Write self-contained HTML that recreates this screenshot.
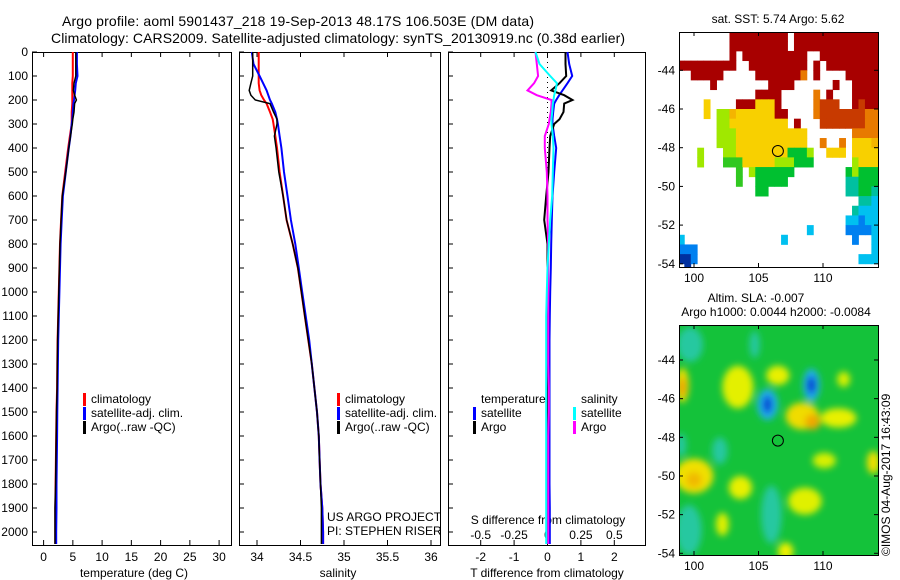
<!DOCTYPE html>
<html><head><meta charset="utf-8"><style>
html,body{margin:0;padding:0;background:#fff;}
svg{display:block;font-family:"Liberation Sans",sans-serif;}
</style></head><body>
<svg id="fig" width="900" height="580" viewBox="0 0 900 580" xmlns="http://www.w3.org/2000/svg">
<text x="298" y="26" font-size="14" text-anchor="middle" textLength="472">Argo profile: aoml 5901437_218 19-Sep-2013 48.17S 106.503E (DM data)</text>
<text x="338" y="43" font-size="14" text-anchor="middle" textLength="574">Climatology: CARS2009. Satellite-adjusted climatology: synTS_20130919.nc (0.38d earlier)</text>
<g id="p1"></g>
<g id="p2"></g>
<g id="p3"></g>
<g id="m1"></g>
<g id="m2"></g>
<text transform="translate(890,556) rotate(-90)" font-size="12">©IMOS 04-Aug-2017 16:43:09</text>
</svg>
<script>
// ---- data ----
const depths = [0,50,100,130,160,180,200,215,250,280,300,350,400,500,600,700,800,900,1000,1100,1200,1300,1400,1500,1600,1700,1800,1900,2000,2050];
const tempClim = [5.0,5.0,5.0,4.9,4.9,4.9,4.9,4.9,4.8,4.8,4.8,4.5,4.2,3.7,3.2,3.0,2.8,2.7,2.6,2.5,2.4,2.35,2.3,2.2,2.15,2.1,2.05,2.0,2.0,2.0];
const tempSat = [5.7,5.7,5.8,5.5,5.4,5.3,5.2,5.1,5.0,4.9,4.8,4.6,4.3,3.8,3.3,3.1,2.9,2.8,2.7,2.6,2.5,2.45,2.4,2.35,2.3,2.25,2.2,2.2,2.15,2.15];
const tempArgo = [5.5,5.5,5.5,5.2,5.1,5.3,5.6,5.3,5.2,5.0,4.9,4.6,4.3,3.8,3.2,3.0,2.8,2.7,2.6,2.5,2.4,2.35,2.3,2.2,2.15,2.1,2.05,1.95,1.95,1.95];
const salClim = [34.02,34.02,34.02,34.02,34.03,34.05,34.08,34.11,34.15,34.18,34.19,34.21,34.23,34.26,34.30,34.34,34.41,34.47,34.51,34.55,34.59,34.63,34.66,34.69,34.71,34.72,34.73,34.75,34.76,34.76];
const salSat = [33.94,33.96,34.03,34.07,34.11,34.13,34.15,34.17,34.21,34.23,34.24,34.26,34.28,34.31,34.35,34.39,34.44,34.48,34.52,34.56,34.60,34.63,34.66,34.69,34.71,34.72,34.73,34.75,34.76,34.76];
const salArgo = [33.95,33.95,33.95,33.93,33.91,33.93,33.98,34.15,34.19,34.23,34.23,34.20,34.22,34.25,34.30,34.34,34.41,34.47,34.51,34.55,34.59,34.63,34.66,34.69,34.71,34.72,34.73,34.74,34.74,34.74];
const dTSat = [0.6,0.65,0.74,0.6,0.45,0.35,0.26,0.2,0.17,0.15,0.15,0.2,0.26,0.2,0.15,0.13,0.11,0.1,0.08,0.07,0.06,0.06,0.06,0.06,0.06,0.06,0.06,0.07,0.07,0.07];
const dTArgo = [0.54,0.54,0.56,0.36,0.11,0.5,0.75,0.5,0.48,0.36,0.2,0.08,0.06,0.03,-0.04,-0.1,0.0,0.0,0.0,0.0,-0.01,-0.01,-0.01,0.0,0.0,0.0,-0.01,-0.02,-0.02,-0.02];
const dSSat = [-0.09,-0.06,0.02,0.07,0.06,0.05,0.045,0.04,0.035,0.03,0.03,0.04,0.045,0.04,0.035,0.02,0.01,0.0,-0.005,-0.01,-0.01,-0.01,-0.01,-0.01,-0.01,-0.01,-0.01,-0.01,-0.01,-0.01];
const dSArgo = [-0.09,-0.08,-0.07,-0.1,-0.15,-0.08,0.03,0.03,0.025,0.015,0.01,-0.02,-0.02,-0.005,0.0,0.0,0.005,0.005,0.005,0.005,0.005,0.005,0.01,0.01,0.005,0.005,0.005,0.005,0.005,0.005];
const depthTicks = [0,100,200,300,400,500,600,700,800,900,1000,1100,1200,1300,1400,1500,1600,1700,1800,1900,2000];
const tempTicks = [0,5,10,15,20,25,30];
const salTicks = [34,34.5,35,35.5,36];
const salTickLabels = ["34","34.5","35","35.5","36"];
const dTTicks = [-2,-1,0,1,2];
const dSTicks = [-0.5,-0.25,0,0.25,0.5];
const dSTickLabels = ["-0.5","-0.25","0","0.25","0.5"];
const latTicks = [-44,-46,-48,-50,-52,-54];
const lonTicks = [100,105,110];
const floatLon = 106.503, floatLat = -48.17;
// SST map grid: 0.5 deg cells from 98.75E, -42S
const sstRows = [
"........RRRRRRRRR.RRRRRRRRRRRRR",
"........RRRRRRRRR.RRRRRRRRRRRRR",
"........R.RRRRRRRRRR..RRRRRRRRR",
"RRRRRRRRR..RRRRRRRRR.R.RRRRRRRR",
"..RRRRR.....RRRRRRRo.R....RRRRR",
".....R........RRRR......R..RRRR",
"............RRRR.....o.R...RRRR",
"....y....RRRyyyR.....orrr..RrRR",
"....y.llYyyyyyyRR....orrrrrrroo",
"......llyyyyyyyyy.R...rrrrrrroo",
"......lllyyyyyyyyyyy.......oooo",
"......lllyyyyyyyyyyy..o..o.yyyY",
"...l...llyyyyyyyyGGGl..yyy.yyyy",
"...l...gggyyyyylllGGG......lyyy",
".........g.lGGGGGG........GlGGG",
".........g..GGGGG.........ttGGG",
"............GG............ttGGt",
"............................ttc",
"...........................tccc",
"..........................ccbcc",
"....................c.....bbbbc",
"c...............c..........b..c",
"bbb...........................c",
"BBb.........................ccc",
".B............................."];
const sstColors = {R:"#a80000",r:"#c83a00",o:"#e87a00",Y:"#f4b400",y:"#f8d000",l:"#a0e800",g:"#30c820",G:"#00c030",t:"#00c0a0",c:"#00c0f0",b:"#0080f0",B:"#0030a0"};
// SLA anomaly blobs: lon, lat, rx(deg), ry(deg), colour
const slaLon = [99.7,99.0,99.6,104.7,106.0,102.0,99.1,103.4,106.5,108.4,111.2,111.6,110.1,113.9,100.0,103.6,108.6,102.2,107.1,105.7,109.1,109.2,99.1,100.0];
const slaLat = [-43.2,-48.4,-52.8,-43.2,-52.0,-48.7,-45.3,-45.4,-44.8,-46.9,-47.0,-45.0,-49.2,-49.3,-50.0,-50.6,-51.3,-52.5,-53.9,-46.3,-45.3,-47.2,-45.4,-50.2];
const slaRx = [1.0,0.4,1.0,0.4,0.8,0.6,0.5,1.2,0.9,1.3,1.4,0.5,0.9,0.5,1.5,0.9,1.3,0.5,0.6,0.8,0.65,0.6,0.3,0.6];
const slaRy = [0.9,0.6,1.3,0.7,1.5,0.7,0.9,1.1,0.5,0.7,0.5,0.4,0.4,0.6,0.9,0.6,0.7,0.6,0.45,0.8,0.85,0.4,0.5,0.4];
const slaCol = ["#28c8a0","#28c8a0","#28c8a0","#28c8a0","#28c8a0","#28c8a0","#f0e000","#e4f000","#e8f000","#f0dc00","#e8f000","#d8f000","#d8f000","#f0e000","#f0e000","#e8f000","#e0f000","#e0f000","#f0f000","#20b0f0","#20b0f0","#f0a800","#f0a000","#f0b800"];
const eddyLon = [105.7,109.1];
const eddyLat = [-46.3,-45.3];

// ---- helpers ----
const NS="http://www.w3.org/2000/svg";
function mk(parent,tag,attrs){const e=document.createElementNS(NS,tag);for(const k in attrs)e.setAttribute(k,attrs[k]);parent.appendChild(e);return e;}
const Y0=52, YB=545, yD=d=>Y0+0.24*d;
const xT=t=>43.6+5.85*t;
const xS=s=>257+87*(s-34);
const xDT=t=>547.5+33.4*t;
const xDS=s=>547.5+133.6*s;

function frame(g,x0,x1,name){
  const r=mk(g,'rect',{x:x0+0.5,y:Y0+0.5,width:x1-x0,height:YB-Y0,fill:'none',stroke:'#000','stroke-width':1});
  
  
}
function line(g,xs,xf,col,name,w){
  const pts=depths.map((d,i)=>xf(xs[i]).toFixed(1)+','+yD(d).toFixed(1)).join(' ');
  const p=mk(g,'polyline',{points:pts,fill:'none',stroke:col,'stroke-width':w||2,'stroke-linejoin':'miter'});
  
  
}
function txt(g,x,y,s,name,size,anchor){
  const t=mk(g,'text',{x:x,y:y,'font-size':size||12});
  if(anchor)t.setAttribute('text-anchor',anchor);
  t.textContent=s;
  
  
  return t;
}
function xticks(g,vals,labels,xf,y,name,top){
  vals.forEach((v,i)=>{
    const x=xf(v);
    mk(g,'line',{x1:x,x2:x,y1:YB,y2:YB-5,stroke:'#000'});
    if(top) mk(g,'line',{x1:x,x2:x,y1:Y0,y2:Y0+5,stroke:'#000'});
    txt(g,x,y,labels[i],name,12,'middle');
  });
}
function legend(g,x,y,col,s){
  const r=mk(g,'rect',{x:x,y:y-10,width:3,height:13,fill:col});
  
  
  txt(g,x+8,y,s,'legend-entry');
}

// ---- panel 1 ----
const p1=document.getElementById('p1');
frame(p1,32,231,'temperature-axes');
depthTicks.forEach(d=>{
  const y=yD(d);
  mk(p1,'line',{x1:32,x2:37,y1:y,y2:y,stroke:'#000'});
  txt(p1,28,y+4,String(d),'depth-tick-label',12,'end');
});
xticks(p1,tempTicks,tempTicks.map(String),xT,561,'temperature-tick-label',true);
txt(p1,134,577,'temperature (deg C)','temperature-axis-title',12,'middle');
line(p1,tempClim,xT,'#ff0000','temperature-climatology-line');
line(p1,tempSat,xT,'#0000ff','temperature-satellite-line');
line(p1,tempArgo,xT,'#000000','temperature-argo-line',1.5);
legend(p1,83,403,'#ff0000','climatology');
legend(p1,83,417,'#0000ff','satellite-adj. clim.');
legend(p1,83,431,'#000000','Argo(..raw -QC)');

// ---- panel 2 ----
const p2=document.getElementById('p2');
frame(p2,239,440,'salinity-axes');
depthTicks.forEach(d=>{const y=yD(d);mk(p2,'line',{x1:239,x2:244,y1:y,y2:y,stroke:'#000'});});
xticks(p2,salTicks,salTickLabels,xS,561,'salinity-tick-label',true);
txt(p2,338,577,'salinity','salinity-axis-title',12,'middle');
line(p2,salClim,xS,'#ff0000','salinity-climatology-line');
line(p2,salSat,xS,'#0000ff','salinity-satellite-line');
line(p2,salArgo,xS,'#000000','salinity-argo-line',1.5);
legend(p2,337,403,'#ff0000','climatology');
legend(p2,337,417,'#0000ff','satellite-adj. clim.');
legend(p2,337,431,'#000000','Argo(..raw -QC)');
txt(p2,327,521,'US ARGO PROJECT','project-label');
txt(p2,327,535,'PI: STEPHEN RISER','pi-label');

// ---- panel 3 ----
const p3=document.getElementById('p3');
frame(p3,448,645,'difference-axes');
depthTicks.forEach(d=>{const y=yD(d);mk(p3,'line',{x1:448,x2:453,y1:y,y2:y,stroke:'#000'});});
xticks(p3,dTTicks,dTTicks.map(String),xDT,561,'t-difference-tick-label',true);
dSTicks.forEach((v,i)=>{txt(p3,xDS(v),539,dSTickLabels[i],'s-difference-tick-label',12,'middle');});
txt(p3,547,577,'T difference from climatology','t-difference-axis-title',12,'middle');
txt(p3,548,524,'S difference from climatology','s-difference-axis-title',12,'middle');
const zl=mk(p3,'line',{x1:xDT(0),x2:xDT(0),y1:Y0,y2:YB,stroke:'#000','stroke-dasharray':'1,4'});


line(p3,dTSat,xDT,'#0000ff','t-satellite-diff-line');
line(p3,dTArgo,xDT,'#000000','t-argo-diff-line');
line(p3,dSArgo,xDS,'#ff00ff','s-argo-diff-line');
line(p3,dSSat,xDS,'#00ffff','s-satellite-diff-line');
txt(p3,481,403,'temperature','legend-temperature-header');
legend(p3,473,417,'#0000ff','satellite');
legend(p3,473,431,'#000000','Argo');
txt(p3,581,403,'salinity','legend-salinity-header');
legend(p3,573,417,'#00ffff','satellite');
legend(p3,573,431,'#ff00ff','Argo');

// ---- maps ----
const MX0=679, MX1=878;
const xL=lon=>694+12.9*(lon-100);
function mapAxes(g,yTop,yBot,yl,frameName){
  latTicks.forEach(l=>{
    const y=yl(l);
    mk(g,'line',{x1:MX0,x2:MX0+4,y1:y,y2:y,stroke:'#000'});
    mk(g,'line',{x1:MX1-4,x2:MX1,y1:y,y2:y,stroke:'#000'});
    txt(g,MX0-4,y+4,String(l),'latitude-tick-label',12,'end');
  });
  lonTicks.forEach(l=>{
    const x=xL(l);
    mk(g,'line',{x1:x,x2:x,y1:yBot,y2:yBot-4,stroke:'#000'});
    mk(g,'line',{x1:x,x2:x,y1:yTop,y2:yTop+4,stroke:'#000'});
    txt(g,x,yBot+15,String(l),'longitude-tick-label',12,'middle');
  });
  const r=mk(g,'rect',{x:MX0+0.5,y:yTop+0.5,width:MX1-MX0,height:yBot-yTop,fill:'none',stroke:'#000'});
  
  
  const c=mk(g,'circle',{cx:xL(floatLon),cy:yl(floatLat),r:5.5,fill:'none',stroke:'#000'});
  
  
}
// SST
const m1=document.getElementById('m1');
const T1=32,B1=267;
const yl1=lat=>70.3+19.35*(-44-lat);
sstRows.forEach((row,i)=>{
  for(let j=0;j<31&&j<row.length;j++){
    const ch=row[j]; if(!sstColors[ch])continue;
    const lon=98.75+0.5*j, lat=-42-0.5*i;
    const x0=Math.max(MX0,xL(lon)), x1=Math.min(MX1,xL(lon+0.5));
    const y0=Math.max(T1,yl1(lat)), y1=Math.min(B1,yl1(lat-0.5));
    if(x1<=x0||y1<=y0)continue;
    const r=mk(m1,'rect',{x:x0,y:y0,width:x1-x0+0.4,height:y1-y0+0.4,fill:sstColors[ch]});
    
    
  }
});
mapAxes(m1,T1,B1,yl1,'sst-map-frame');
txt(m1,778,23,'sat. SST: 5.74 Argo: 5.62','sst-map-title',12,'middle');
// SLA
const m2=document.getElementById('m2');
const T2=325,B2=555;
const yl2=lat=>360+19.33*(-44-lat);
const defs=mk(m2,'defs',{});
const clip=mk(defs,'clipPath',{id:'slaclip'});
mk(clip,'rect',{x:MX0,y:T2,width:MX1-MX0,height:B2-T2});
const flt=mk(defs,'filter',{id:'blur',x:'-50%',y:'-50%',width:'200%',height:'200%'});
mk(flt,'feGaussianBlur',{stdDeviation:3.5});
const gg=mk(m2,'g',{'clip-path':'url(#slaclip)'});
const bg=mk(gg,'rect',{x:MX0,y:T2,width:MX1-MX0,height:B2-T2,fill:'#14c23a'});


const gb=mk(gg,'g',{filter:'url(#blur)'});
slaLon.forEach((lon,i)=>{
  const e=mk(gb,'ellipse',{cx:xL(lon),cy:yl2(slaLat[i]),rx:slaRx[i]*12.9,ry:slaRy[i]*19.33,fill:slaCol[i]});
  
  
});
eddyLon.forEach((lon,i)=>{
  const e=mk(gb,'ellipse',{cx:xL(lon),cy:yl2(eddyLat[i]),rx:4.5,ry:9,fill:'#0038d0'});
  
  
});
mapAxes(m2,T2,B2,yl2,'sla-map-frame');
txt(m2,756,302,'Altim. SLA: -0.007','sla-map-title',12,'middle');
txt(m2,776,316,'Argo h1000: 0.0044 h2000: -0.0084','sla-map-subtitle',12,'middle');
</script>
</body></html>
